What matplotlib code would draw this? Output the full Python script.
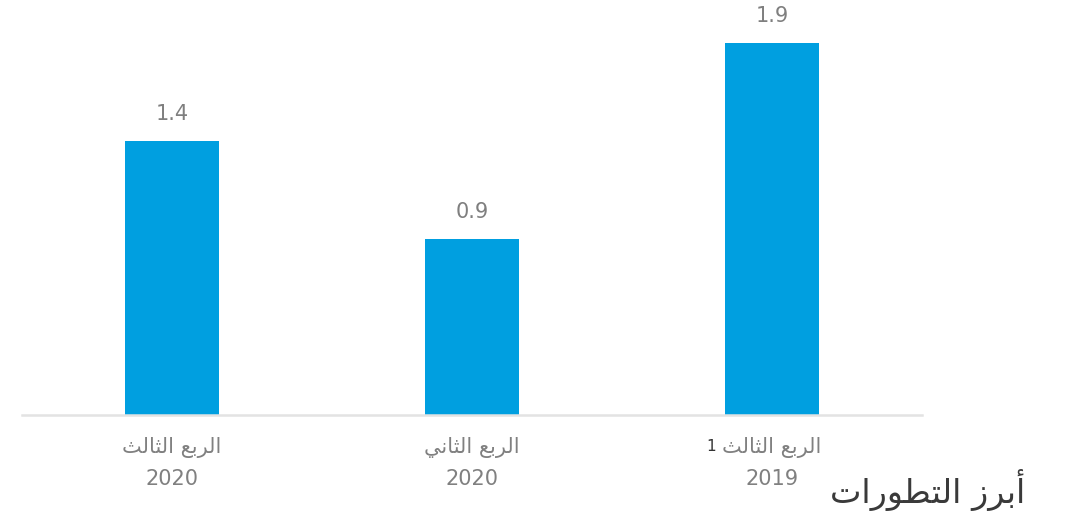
import matplotlib
matplotlib.use('Agg')
import matplotlib.pyplot as plt

# Data
quarters = ['الربع الثالث', 'الربع الثاني', 'الربع الثالث']
years = ['2020', '2020', '2019']
values = [1.4, 0.9, 1.9]
notes = ['', '', '1']
title = 'أبرز التطورات'

# matplotlib has no Arabic shaping, so convert to presentation forms
# (iso, final, initial, medial); right-joining letters only have two
forms = {
    'ا': ('\uFE8D', '\uFE8E'),
    'أ': ('\uFE83', '\uFE84'),
    'ب': ('\uFE8F', '\uFE90', '\uFE91', '\uFE92'),
    'ت': ('\uFE95', '\uFE96', '\uFE97', '\uFE98'),
    'ث': ('\uFE99', '\uFE9A', '\uFE9B', '\uFE9C'),
    'ر': ('\uFEAD', '\uFEAE'),
    'ز': ('\uFEAF', '\uFEB0'),
    'ط': ('\uFEC1', '\uFEC2', '\uFEC3', '\uFEC4'),
    'ع': ('\uFEC9', '\uFECA', '\uFECB', '\uFECC'),
    'ل': ('\uFEDD', '\uFEDE', '\uFEDF', '\uFEE0'),
    'ن': ('\uFEE5', '\uFEE6', '\uFEE7', '\uFEE8'),
    'و': ('\uFEED', '\uFEEE'),
    'ي': ('\uFEF1', '\uFEF2', '\uFEF3', '\uFEF4'),
}


def shape(text):
    out = []
    for word in text.split(' '):
        chars = []
        for i, c in enumerate(word):
            f = forms.get(c)
            if f is None:
                chars.append(c)
                continue
            prev = word[i - 1] if i > 0 else None
            nxt = word[i + 1] if i + 1 < len(word) else None
            join_prev = prev in forms and len(forms[prev]) == 4
            join_next = nxt in forms and len(f) == 4
            if join_prev and join_next:
                chars.append(f[3])
            elif join_prev:
                chars.append(f[1])
            elif join_next:
                chars.append(f[2])
            else:
                chars.append(f[0])
        out.append(''.join(reversed(chars)))
    return ' '.join(reversed(out))


plt.rcParams['font.family'] = ['DejaVu Sans']

fig = plt.figure(figsize=(10.71, 5.13), dpi=100)
ax = fig.add_axes([22 / 1071, 98 / 513, 900 / 1071, 415 / 513])

x = list(range(len(values)))
bars = ax.bar(x, values, width=0.313, color='#009FE0', zorder=2)

for xi, v in zip(x, values):
    ax.annotate(f'{v}', (xi, v), xytext=(0, 12), textcoords='offset points',
                ha='center', va='bottom', fontsize=15, color='#7f7f7f')

ax.set_xlim(-0.5, 2.5)
ax.set_ylim(0, 2.12)
ax.set_yticks([])
ax.set_xticks(x)
ax.set_xticklabels([shape(q) + '\n' + y for q, y in zip(quarters, years)],
                   fontsize=15, color='#808080', linespacing=1.7)
ax.tick_params(axis='x', length=0, pad=16)

for s in ['top', 'right', 'left']:
    ax.spines[s].set_visible(False)
ax.spines['bottom'].set_color('#e3e3e3')
ax.spines['bottom'].set_linewidth(1.8)

# footnote marker sits at the left end of the rtl label
for xi, n in zip(x, notes):
    if n:
        ax.annotate(n, (xi, 0), xytext=(-44, -17), textcoords='offset points',
                    ha='center', va='top', fontsize=11, color='#333333')

fig.text(1025 / 1071, 1 - 490 / 513, shape(title), ha='right', va='center',
         fontsize=24, color='#3a3a3a')

fig.savefig('out.png', dpi=100)
